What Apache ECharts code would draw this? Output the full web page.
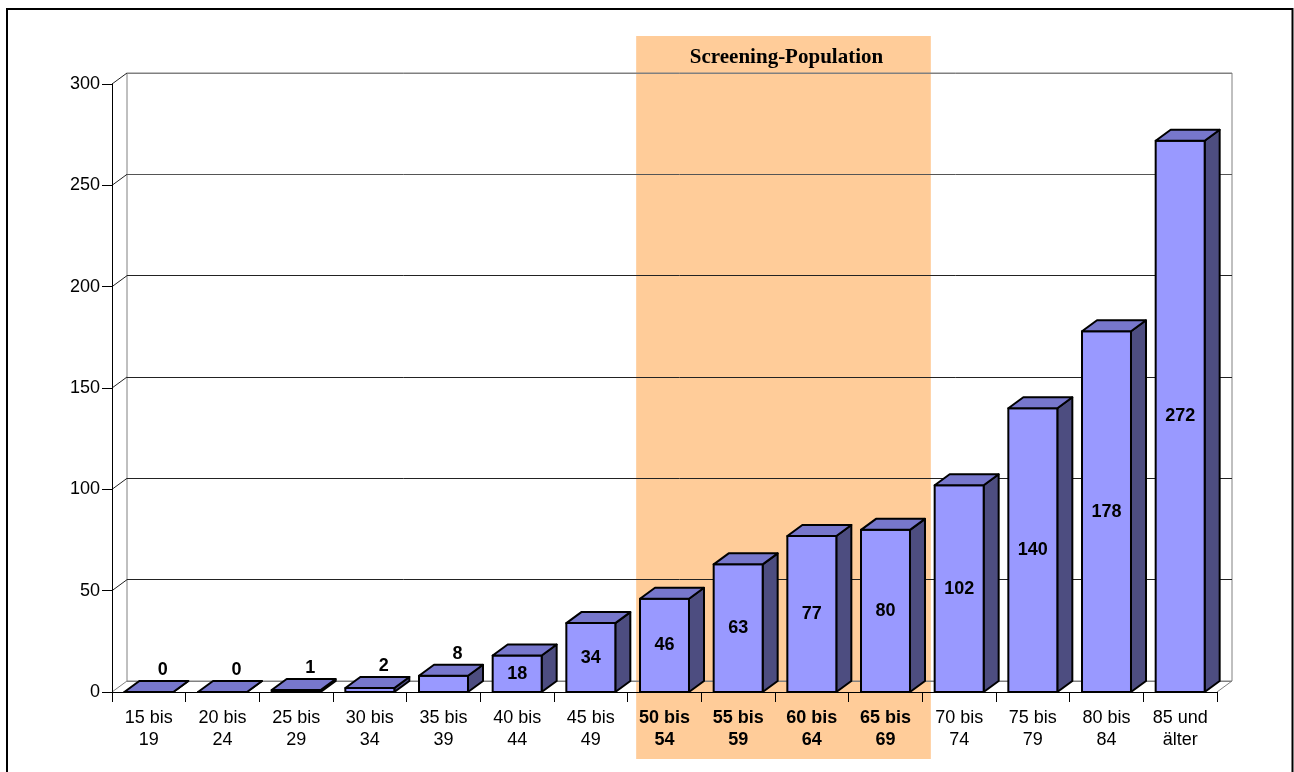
<!DOCTYPE html>
<html>
<head>
<meta charset="utf-8">
<title>Fälle nach Altersgruppe</title>
<script src="https://cdn.jsdelivr.net/npm/echarts/dist/echarts.min.js"></script>
<style>
  html, body { margin: 0; padding: 0; background: #fff; }
  #chart { width: 1294px; height: 772px; }
</style>
</head>
<body>
<div id="chart"></div>
<script>
// Age groups (two-line category labels)
const ageGroups = [
  '15 bis\n19', '20 bis\n24', '25 bis\n29', '30 bis\n34', '35 bis\n39',
  '40 bis\n44', '45 bis\n49', '50 bis\n54', '55 bis\n59', '60 bis\n64',
  '65 bis\n69', '70 bis\n74', '75 bis\n79', '80 bis\n84', '85 und\nälter'
];
// Values per age group
const cases = [0, 0, 1, 2, 8, 18, 34, 46, 63, 77, 80, 102, 140, 178, 272];
// Value axis ticks
const yTicks = [0, 50, 100, 150, 200, 250, 300];
// First and last age-group index of the screening population
const screeningRange = [7, 10];
const screeningTitle = 'Screening-Population';

// Pseudo-3D depth offset in pixels (towards the back wall)
const DX = 15, DY = -11;
const SANS = "'Liberation Sans', Arial, sans-serif";
const SERIF = "'Liberation Serif', 'Times New Roman', serif";

const chart = echarts.init(document.getElementById('chart'), null, { renderer: 'canvas' });

const categoryData = ageGroups.map((name, i) => {
  const bold = i >= screeningRange[0] && i <= screeningRange[1];
  return { value: name, textStyle: { fontWeight: bold ? 'bold' : 'normal' } };
});

// Front face, top and right side of one bar
function renderBar(params, api) {
  const i = api.value(0), v = api.value(1);
  const top = api.coord([i, v]);
  const base = api.coord([i, 0]);
  const bw = api.size([1, 0])[0] * 0.665;
  const xl = top[0] - bw / 2, xr = top[0] + bw / 2;
  const yt = top[1], yb = base[1];
  const edge = { stroke: '#000', lineWidth: 2, lineJoin: 'round' };
  const children = [
    { type: 'polygon', shape: { points: [[xr, yt], [xr + DX, yt + DY], [xr + DX, yb + DY], [xr, yb]] },
      style: Object.assign({ fill: '#4d4d80' }, edge) },
    { type: 'rect', shape: { x: xl, y: yt, width: bw, height: yb - yt },
      style: Object.assign({ fill: '#9999ff' }, edge) },
    { type: 'polygon', shape: { points: [[xl, yt], [xr, yt], [xr + DX, yt + DY], [xl + DX, yt + DY]] },
      style: Object.assign({ fill: '#7777cc' }, edge) }
  ];
  const inside = (yb - yt) >= 24;
  children.push({
    type: 'text',
    style: {
      text: String(v),
      x: inside ? top[0] : top[0] + 14,
      y: inside ? (yt + yb) / 2 : yt + DY - 11,
      align: 'center', verticalAlign: 'middle',
      font: 'bold 18px ' + SANS, fill: '#000'
    }
  });
  return { type: 'group', children: children };
}

// Highlight band behind the screening age groups
function renderBand(params, api) {
  const a = api.value(0), b = api.value(1);
  const w = api.size([1, 0])[0];
  const p0 = api.coord([a, 0]), p1 = api.coord([b, 0]);
  const pTop = api.coord([a, yTicks[yTicks.length - 1]]);
  const x0 = p0[0] - w / 2 + 8.5, x1 = p1[0] + w / 2 + 8.5;
  const y0 = pTop[1] - 48, y1 = p0[1] + 67;
  return {
    type: 'group',
    children: [
      { type: 'rect', shape: { x: x0, y: y0, width: x1 - x0, height: y1 - y0 }, style: { fill: '#ffcc99' } },
      { type: 'text', style: {
          text: screeningTitle, x: (x0 + x1) / 2 + 3, y: y0 + 22,
          align: 'center', verticalAlign: 'middle',
          font: 'bold 21px ' + SERIF, fill: '#000' } }
    ]
  };
}

// Diagonal connectors from the front axis to the back wall
function renderDepthLines(params, api) {
  const v = api.value(1);
  const w = api.size([1, 0])[0];
  const p = api.coord([0, v]);
  const x0 = p[0] - w / 2;
  const children = [
    { type: 'line', shape: { x1: x0, y1: p[1], x2: x0 + DX, y2: p[1] + DY },
      style: { stroke: v === 0 ? '#808080' : '#222', lineWidth: 1 } }
  ];
  if (v === 0) {
    const pr = api.coord([ageGroups.length - 1, 0]);
    const xr = pr[0] + w / 2;
    children.push({ type: 'line', shape: { x1: xr, y1: pr[1], x2: xr + DX, y2: pr[1] + DY },
      style: { stroke: '#808080', lineWidth: 1 } });
  }
  return { type: 'group', children: children };
}

const yMin = yTicks[0], yMax = yTicks[yTicks.length - 1], yStep = yTicks[1] - yTicks[0];

chart.setOption({
  animation: false,
  backgroundColor: '#fff',
  grid: [
    { left: 112, right: 77, top: 84, bottom: 80, z: 3 },
    { left: 112 + DX, right: 77 - DX, top: 84 + DY, bottom: 80 - DY, show: true,
      backgroundColor: 'transparent', borderColor: '#808080', borderWidth: 1, z: 2 }
  ],
  xAxis: [
    { type: 'category', gridIndex: 0, data: categoryData, z: 3,
      axisLine: { show: true, lineStyle: { color: '#000', width: 1 } },
      axisTick: { show: true, length: 10, lineStyle: { color: '#000' } },
      axisLabel: { interval: 0, margin: 15, fontSize: 18, lineHeight: 22, color: '#000', fontFamily: SANS },
      splitLine: { show: false } },
    { type: 'category', gridIndex: 1, data: ageGroups, show: false }
  ],
  yAxis: [
    { type: 'value', gridIndex: 0, min: yMin, max: yMax, interval: yStep, z: 3,
      axisLine: { show: true, lineStyle: { color: '#000', width: 1 } },
      axisTick: { show: true, length: 10, lineStyle: { color: '#000' } },
      axisLabel: { margin: 12, fontSize: 18, color: '#000', fontFamily: SANS },
      splitLine: { show: false } },
    { type: 'value', gridIndex: 1, min: yMin, max: yMax, interval: yStep, z: 2,
      axisLine: { show: false }, axisTick: { show: false }, axisLabel: { show: false },
      splitLine: { show: true, lineStyle: { color: ['#808080', '#222', '#222', '#222', '#222', '#555', '#808080'], width: 1 } } }
  ],
  series: [
    { type: 'custom', name: 'band', xAxisIndex: 0, yAxisIndex: 0, z: 1, clip: false,
      renderItem: renderBand, encode: { x: [0, 1] }, data: [screeningRange], silent: true },
    { type: 'custom', name: 'depth', xAxisIndex: 0, yAxisIndex: 0, z: 3, clip: false,
      renderItem: renderDepthLines, encode: { x: 0, y: 1 }, data: yTicks.map(v => [0, v]), silent: true },
    { type: 'custom', name: 'Fälle', xAxisIndex: 0, yAxisIndex: 0, z: 5, clip: false,
      renderItem: renderBar, encode: { x: 0, y: 1 }, data: cases.map((v, i) => [i, v]) }
  ],
  graphic: [
    { type: 'rect', z: 100, silent: true,
      shape: { x: 7, y: 9, width: 1285.5, height: 800 },
      style: { fill: 'none', stroke: '#000', lineWidth: 2 } }
  ]
});
</script>
</body>
</html>
